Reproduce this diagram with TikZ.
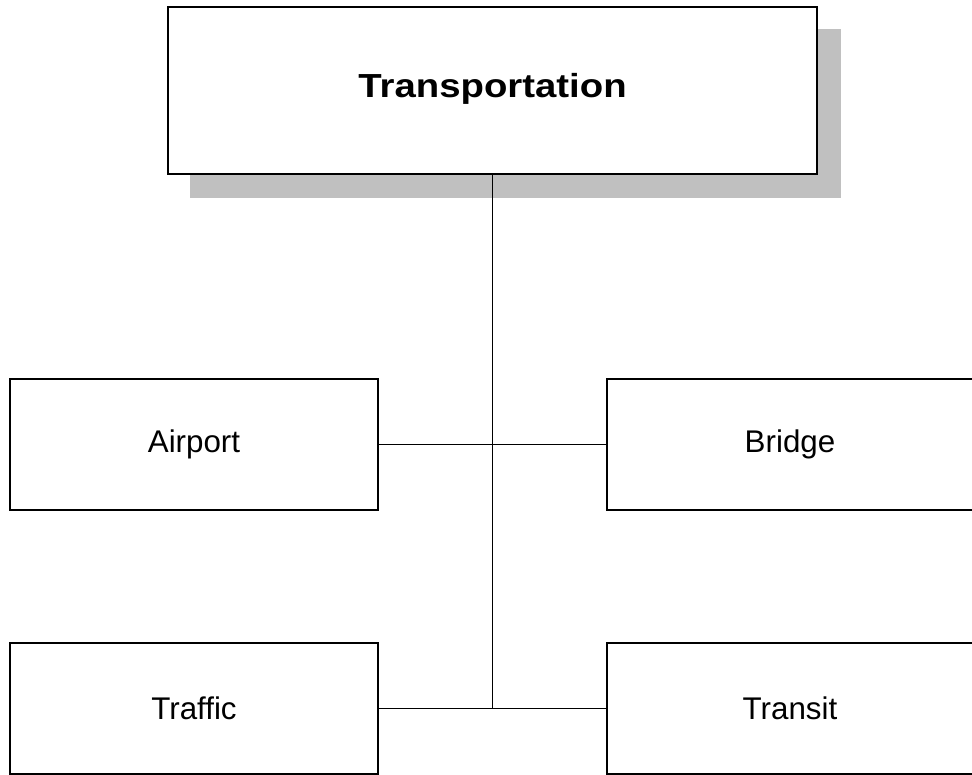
\documentclass[tikz,border=0pt]{standalone}
\usepackage{fontspec}
\setmainfont{Liberation Sans}
\newfontfamily\titlefont[FakeStretch=1.15]{Liberation Sans}
\usetikzlibrary{backgrounds}
\definecolor{shadowgray}{RGB}{192,192,192}
\begin{document}
\begin{tikzpicture}[x=0.75pt,y=-0.75pt,
  box/.style={draw=black, line width=1.1pt, fill=white, inner sep=0pt,
    minimum width=276pt, minimum height=98.25pt,
    font=\fontsize{23.5}{28}\selectfont},
  titlebox/.style={box, minimum width=486.75pt, minimum height=125.25pt,
    text height=9.75pt, text depth=0pt,
    font=\titlefont\bfseries\fontsize{25}{30}\selectfont},
  conn/.style={draw=black, line width=0.75pt}]
\useasboundingbox (0,0) rectangle (972,775);
\clip (0,0) rectangle (972,775);

\node[titlebox] (top) at (492.5,90.5) {Transportation};
\begin{scope}[on background layer]
  \fill[shadowgray] ([shift={(23,23)}]top.south west) rectangle ([shift={(23,23)}]top.north east);
\end{scope}

\node[box] (airport) at (194,444.5) {Airport};
\node[box, minimum width=274.5pt] (bridge) at (790,444.5) {Bridge};
\node[box] (traffic) at (194,708.5) {Traffic};
\node[box, minimum width=274.5pt] (transit) at (790,708.5) {Transit};

\coordinate (junction) at (top.south |- traffic.east);
\draw[conn] (top.south) -- (junction);
\draw[conn] (airport.east) -- (bridge.west);
\draw[conn] (traffic.east) -- (transit.west);
\end{tikzpicture}
\end{document}
